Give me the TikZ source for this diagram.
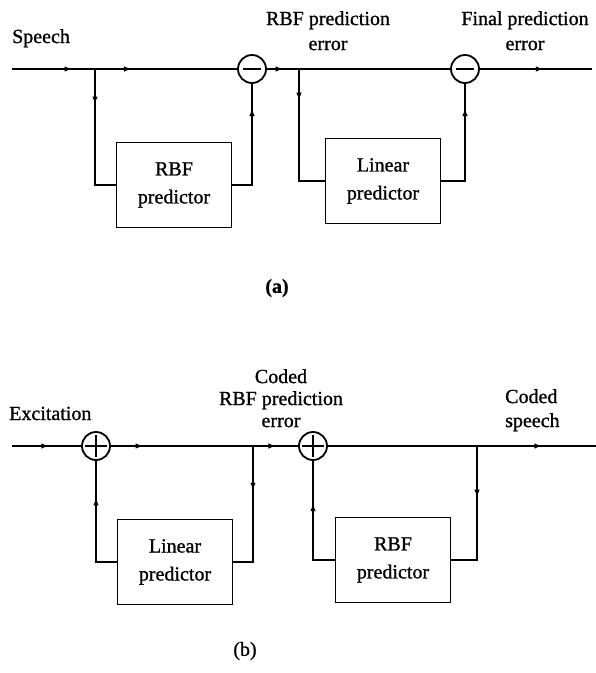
\documentclass[tikz,border=0pt]{standalone}
\usepackage{fontspec}
\setmainfont{Liberation Serif}[FakeBold=1]
\usetikzlibrary{arrows.meta,decorations.markings}

\tikzset{
    wire/.style={line width=1.8pt},
    arr/.style={postaction={decorate},
        decoration={markings, mark=at position #1 with {\arrow{Latex[length=8pt,width=5.5pt]}}}},
    predbox/.style={draw, line width=1.8pt, align=center, inner sep=0pt,
        minimum width=115pt, minimum height=85pt, font=\fontsize{20}{28}\selectfont},
    diffnode/.style={draw, circle, line width=1.8pt, minimum size=28pt, inner sep=0pt,
        path picture={\draw[line width=1.8pt]
            ([xshift=-9pt]path picture bounding box.center) -- ([xshift=9pt]path picture bounding box.center);}},
    sumnode/.style={draw, circle, line width=1.8pt, minimum size=28pt, inner sep=0pt,
        path picture={\draw[line width=1.8pt]
            ([xshift=-11pt]path picture bounding box.center) -- ([xshift=11pt]path picture bounding box.center)
            ([yshift=-11pt]path picture bounding box.center) -- ([yshift=11pt]path picture bounding box.center);}},
    lbl/.style={inner sep=0pt, font=\fontsize{20}{25}\selectfont}
}

\begin{document}
\begin{tikzpicture}[x=1pt,y=-1pt]
\useasboundingbox (0,0) rectangle (596,673);

\node[lbl, anchor=base west] (speech) at (12,43) {Speech};
\node[lbl, anchor=north, align=center] (rbferr) at (328,11) {RBF prediction\\error};
\node[lbl, anchor=north, align=center] (finalerr) at (525,11) {Final prediction\\error};

\coordinate (inA) at (12,69);
\coordinate (jA1) at (95,69);
\coordinate (jA2) at (299,69);
\coordinate (outA) at (592,69);
\node[diffnode] (diffA) at (252,69) {};
\node[diffnode] (diffB) at (465,69) {};
\node[predbox] (rbfA) at (174,185) {RBF\\predictor};
\node[predbox] (linA) at (383,181) {Linear\\predictor};

\draw[wire, arr=0.73] (inA) -- (jA1);
\draw[wire, arr=0.26] (jA1) -- (diffA.west);
\draw[wire, arr=0.26] (jA1) |- (rbfA.west);
\draw[wire, arr=0.8] (rbfA.east) -| (diffA.south);
\draw[wire, arr=0.52] (diffA.east) -- (jA2);
\draw[wire] (jA2) -- (diffB.west);
\draw[wire, arr=0.23] (jA2) |- (linA.west);
\draw[wire, arr=0.8] (linA.east) -| (diffB.south);
\draw[wire, arr=0.57] (diffB.east) -- (outA);

\node[inner sep=0pt, font=\fontsize{20}{24}\selectfont\bfseries] (capA) at (277,288) {(a)};

\node[lbl, anchor=base west] (excit) at (9,420) {Excitation};
\node[lbl, anchor=north, align=center, font=\fontsize{20}{22}\selectfont] (codederr) at (281,369) {Coded\\RBF prediction\\error};
\node[lbl, anchor=north west, align=left, font=\fontsize{20}{24}\selectfont] (codedsp) at (505,389) {Coded\\speech};

\coordinate (inB) at (12,446);
\coordinate (jB1) at (253,446);
\coordinate (jB2) at (477,446);
\coordinate (outB) at (596,446);
\node[sumnode] (sumA) at (96,446) {};
\node[sumnode] (sumB) at (313,446) {};
\node[predbox] (linB) at (175,562) {Linear\\predictor};
\node[predbox] (rbfB) at (393,560) {RBF\\predictor};

\draw[wire, arr=0.54] (inB) -- (sumA.west);
\draw[wire, arr=0.23] (sumA.east) -- (jB1);
\draw[wire, arr=0.52] (jB1) -- (sumB.west);
\draw[wire, arr=0.33] (jB1) |- (linB.east);
\draw[wire, arr=0.7] (linB.west) -| (sumA.south);
\draw[wire, arr=0.8] (sumB.east) -- (outB);
\draw[wire, arr=0.37] (jB2) |- (rbfB.east);
\draw[wire, arr=0.65] (rbfB.west) -| (sumB.south);

\node[inner sep=0pt, font=\fontsize{20}{24}\selectfont] (capB) at (245,651) {(b)};
\end{tikzpicture}
\end{document}
